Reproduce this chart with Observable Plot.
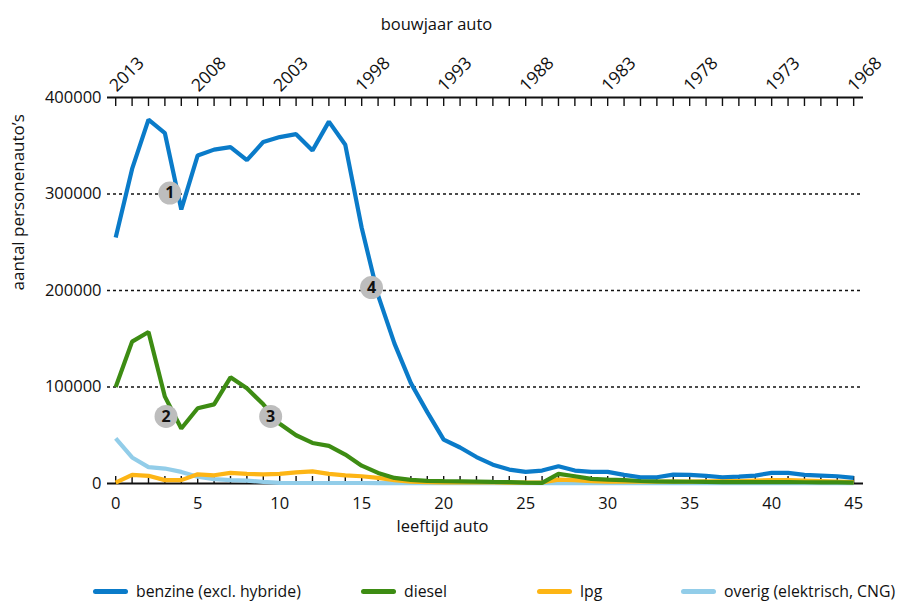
<!DOCTYPE html>
<html>
<head>
<meta charset="utf-8">
<script src="https://cdn.jsdelivr.net/npm/d3@7"></script>
<script src="https://cdn.jsdelivr.net/npm/@observablehq/plot@0.6"></script>
<style>
  body { margin: 0; background: #fff; font-family: "Open Sans", sans-serif; }
  #chart { position: relative; width: 899px; }
  #legend { position: relative; width: 899px; height: 45px; font-size: 15.8px; color: #111; }
  .item { position: absolute; top: 31px; transform: translateY(-50%); display: flex; align-items: center; white-space: nowrap; }
  .sw { width: 35px; height: 5px; border-radius: 3px; margin-right: 8px; }
</style>
</head>
<body>
<div id="chart"></div>
<div id="legend"></div>
<script>
// ---- data ----
const ages = d3.range(0, 46);
const benzine = [255000, 326000, 377000, 363000, 284000, 340000, 346000, 348500, 335000, 354000,
  359000, 362000, 345000, 375000, 351000, 265000, 195000, 145000, 104000, 74000,
  45500, 37300, 27400, 19500, 14400, 12000, 13400, 17800, 13400, 12000,
  12000, 8900, 6500, 6500, 9200, 8900, 7900, 6500, 7200, 8200,
  11000, 11000, 8900, 8200, 7500, 5800];
const diesel = [100000, 147000, 157000, 90000, 57000, 78000, 82000, 110000, 98600, 82000,
  62000, 50000, 42000, 39000, 30000, 18500, 11000, 5800, 3800, 2700,
  2400, 2200, 2000, 1600, 1500, 1000, 700, 10000, 7500, 4800,
  4000, 3400, 2600, 2200, 2000, 1800, 1600, 1500, 1500, 1400,
  1400, 1400, 1300, 1200, 1100, 1000];
const lpg = [1000, 9000, 8000, 3500, 3500, 9500, 8500, 11000, 10000, 9500,
  10000, 11500, 12500, 10000, 8500, 7500, 5800, 3400, 2000, 1500,
  1200, 1200, 1200, 1100, 1000, 1000, 1000, 4000, 3400, 2400,
  2000, 2000, 2000, 2000, 2000, 2000, 2200, 2400, 2600, 3000,
  3400, 3400, 3000, 2500, 2000, 1500];
const overig = [46700, 27000, 17000, 15500, 12000, 7000, 4500, 3500, 3000, 1700,
  600, 500, 500, 500, 500, 500, 400, 400, 400, 400,
  400, 400, 400, 400, 400, 400, 400, 400, 400, 400,
  400, 400, 400, 400, 400, 400, 400, 400, 400, 400,
  400, 400, 400, 400, 400, 400];
const seriesNames = ["benzine (excl. hybride)", "diesel", "lpg", "overig (elektrisch, CNG)"];
const seriesColors = ["#0a7bc9", "#3d8c13", "#fdb515", "#92cde9"];
const yTicks = [0, 100000, 200000, 300000, 400000];
const gridValues = [100000, 200000, 300000];
const labelAges = [0, 5, 10, 15, 20, 25, 30, 35, 40, 45];
const baseYear = 2013;
const annoX = [3.3, 3.07, 9.45, 15.6];
const annoY = [301000, 69500, 69500, 203000];
const annoLabel = ["1", "2", "3", "4"];

const seriesValues = [benzine, diesel, lpg, overig];
const table = [];
// draw order: overig, lpg, diesel, benzine
[3, 2, 1, 0].forEach(si => {
  ages.forEach((a, i) => table.push({age: a, value: seriesValues[si][i], fuel: seriesNames[si]}));
});
const annos = annoX.map((x, i) => ({x, y: annoY[i], label: annoLabel[i]}));

const chart = Plot.plot({
  width: 899,
  height: 560,
  marginLeft: 107,
  marginRight: 36,
  marginTop: 97,
  marginBottom: 77,
  style: {fontFamily: "Open Sans, sans-serif", fontSize: "16.5px", color: "#111", background: "#fff"},
  x: {domain: [-0.5, 45.6]},
  y: {domain: [0, 400000]},
  color: {domain: seriesNames, range: seriesColors},
  marks: [
    Plot.ruleY(gridValues, {stroke: "#111", strokeWidth: 1.3, strokeDasharray: "3,3"}),
    Plot.axisY({ticks: yTicks, tickSize: 0, tickPadding: 6, tickFormat: d => String(d), label: null, fontSize: 16.5}),
    // top axis (bouwjaar)
    Plot.axisX({anchor: "top", ticks: ages, tickSize: -8, tickFormat: () => "", label: null, strokeWidth: 1.4}),
    Plot.axisX({anchor: "top", ticks: labelAges, tickSize: 0, tickPadding: 9, tickRotate: -45, dx: -3,
      tickFormat: d => String(baseYear - d), label: null, fontSize: 17.5}),
    // bottom axis (leeftijd)
    Plot.axisX({anchor: "bottom", ticks: ages, tickSize: -7, tickFormat: () => "", label: null, strokeWidth: 1.4}),
    Plot.axisX({anchor: "bottom", ticks: labelAges, tickSize: 0, tickPadding: 14, tickFormat: d => String(d), label: null, fontSize: 16.5}),
    Plot.ruleY([0, 400000], {stroke: "#111", strokeWidth: 2}),
    Plot.line(table, {x: "age", y: "value", z: "fuel", stroke: "fuel", strokeWidth: 4.2, strokeLinejoin: "miter", strokeLinecap: "butt"}),
    Plot.dot(annos, {x: "x", y: "y", r: 11.5, fill: "#bdbdbd", stroke: "none"}),
    Plot.text(annos, {x: "x", y: "y", text: "label", fontWeight: "bold", fontSize: 16, fill: "#111"}),
    Plot.text(["bouwjaar auto"], {frameAnchor: "top", dx: -49, dy: -79, fontSize: 16.5, fill: "#111"}),
    Plot.text(["leeftijd auto"], {frameAnchor: "bottom", dx: -43, dy: 48, fontSize: 16.5, fill: "#111"}),
    Plot.text(["aantal personenauto’s"], {frameAnchor: "left", dx: -89, rotate: -90, fontSize: 17, fill: "#111"})
  ]
});
document.getElementById("chart").appendChild(chart);

// legend
const legendLeft = [93, 361, 537, 681];
const legend = document.getElementById("legend");
seriesNames.forEach((name, i) => {
  const item = document.createElement("div");
  item.className = "item";
  item.style.left = legendLeft[i] + "px";
  const sw = document.createElement("span");
  sw.className = "sw";
  sw.style.background = seriesColors[i];
  const t = document.createElement("span");
  t.textContent = name;
  item.appendChild(sw);
  item.appendChild(t);
  legend.appendChild(item);
});
</script>
</body>
</html>
